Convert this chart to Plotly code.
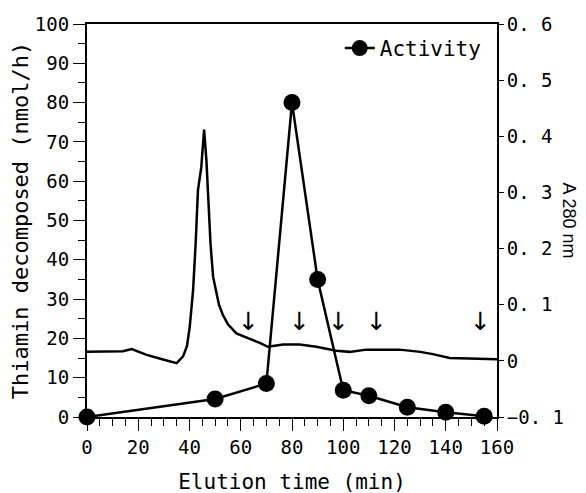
import plotly.graph_objects as go

# Activity (left axis)
act_time = [0, 50, 70, 80, 90, 100, 110, 125, 140, 155]
act_value = [0, 4.6, 8.5, 80, 35, 6.8, 5.4, 2.5, 1.2, 0.2]

# A280 trace (right axis)
a_time = [0, 8, 14, 17.5, 23, 30, 35, 37.5, 39, 40.1, 41.4, 42.4, 43.3, 44.6, 45.7,
          46.6, 47.2, 48.2, 49.2, 50.3, 51.5, 53, 55, 58.3, 63.5, 67.4, 70.6, 76.5,
          83, 89.5, 97.3, 102.5, 109, 122, 130, 135, 141.5, 150, 160]
a_value = [0.016, 0.016, 0.017, 0.021, 0.011, 0.002, -0.004, 0.008, 0.026, 0.061,
           0.126, 0.209, 0.304, 0.345, 0.412, 0.357, 0.298, 0.209, 0.150, 0.124,
           0.100, 0.082, 0.065, 0.049, 0.040, 0.032, 0.025, 0.029, 0.029, 0.025,
           0.018, 0.016, 0.020, 0.020, 0.016, 0.012, 0.005, 0.004, 0.003]

# Fraction arrows
arrow_time = [63, 83, 98, 113, 153.5]
arrow_level = 24.4

x_ticks = [0, 20, 40, 60, 80, 100, 120, 140, 160]
y_ticks = [0, 10, 20, 30, 40, 50, 60, 70, 80, 90, 100]
y2_ticks = [-0.1, 0, 0.1, 0.2, 0.3, 0.4, 0.5, 0.6]
y2_labels = ["\u22120. 1", "0", "0. 1", "0. 2", "0. 3", "0. 4", "0. 5", "0. 6"]

MONO = "DejaVu Sans Mono"

fig = go.Figure()
fig.add_trace(go.Scatter(x=a_time, y=a_value, mode="lines", yaxis="y2",
                         line=dict(color="black", width=2.5), showlegend=False,
                         hoverinfo="skip"))
fig.add_trace(go.Scatter(x=act_time, y=act_value, mode="lines+markers", name="Activity",
                         line=dict(color="black", width=2.5),
                         marker=dict(color="black", size=17), cliponaxis=False))

for t in arrow_time:
    fig.add_annotation(x=t, y=arrow_level, xref="x", yref="y", text="\u2193",
                       showarrow=False, font=dict(family="DejaVu Sans", size=25, color="black"),
                       yanchor="middle")

fig.add_annotation(x=1, y=0.5, xref="paper", yref="paper", xshift=84, text="A 280 nm",
                   textangle=90, showarrow=False,
                   font=dict(family="Liberation Sans", size=18, color="black"))

tickfont = dict(family=MONO, size=19, color="black")
fig.update_layout(
    width=586, height=493,
    margin=dict(l=79, r=97, t=16, b=84, autoexpand=False),
    paper_bgcolor="white", plot_bgcolor="white",
    font=dict(family=MONO, color="black"),
    showlegend=True,
    legend=dict(x=0.975, y=0.99, xanchor="right", yanchor="top",
                font=dict(family=MONO, size=21, color="black"),
                bgcolor="rgba(0,0,0,0)"),
    xaxis=dict(range=[0, 160], tickvals=x_ticks, showgrid=False, zeroline=False,
               automargin=False,
               showline=True, linecolor="black", linewidth=2, mirror=True,
               ticks="outside", ticklen=12, tickwidth=1, tickcolor="black",
               minor=dict(dtick=5, ticks="outside", ticklen=7, tickwidth=1, tickcolor="black"),
               tickfont=tickfont,
               title=dict(text="Elution time (min)", font=dict(family=MONO, size=21), standoff=18)),
    yaxis=dict(range=[0, 100], tickvals=y_ticks, showgrid=False, zeroline=False,
               automargin=False,
               showline=True, linecolor="black", linewidth=2,
               ticks="outside", ticklen=12, tickwidth=1, tickcolor="black",
               minor=dict(dtick=5, ticks="outside", ticklen=7, tickwidth=1, tickcolor="black"),
               tickfont=tickfont,
               title=dict(text="Thiamin decomposed (nmol/h)", font=dict(family=MONO, size=22), standoff=0)),
    yaxis2=dict(range=[-0.1, 0.6], tickvals=y2_ticks, ticktext=y2_labels, overlaying="y",
                side="right", showgrid=False, zeroline=False, automargin=False,
                showline=True, linecolor="black", linewidth=2,
                ticks="outside", ticklen=5, tickwidth=1, tickcolor="black",
                ticklabelstandoff=-1,
                tickfont=tickfont),
)

fig.write_html("out.html")
